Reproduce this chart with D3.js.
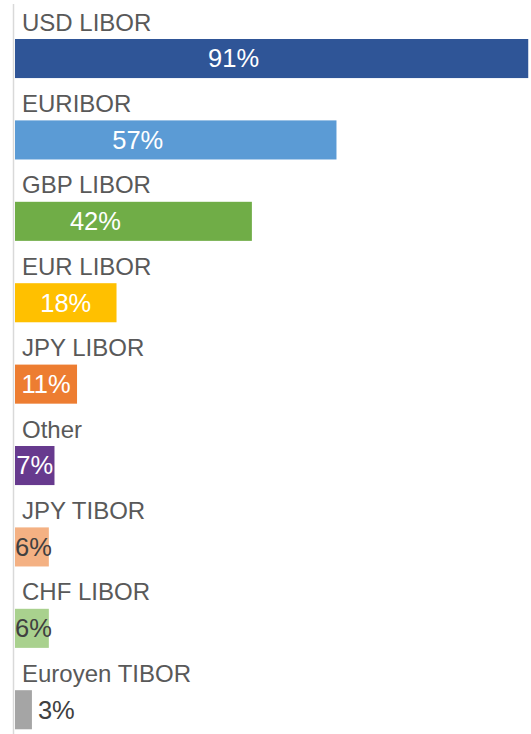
<!DOCTYPE html>
<html>
<head>
<meta charset="utf-8">
<script src="https://cdn.jsdelivr.net/npm/d3@7"></script>
<style>
html,body{margin:0;padding:0;background:#fff;overflow:hidden;}
svg{display:block;}
text{font-family:"Liberation Sans",Arial,sans-serif;}
</style>
</head>
<body>
<svg id="chart" width="531" height="734"></svg>
<script>
const categories = ["USD LIBOR","EURIBOR","GBP LIBOR","EUR LIBOR","JPY LIBOR","Other","JPY TIBOR","CHF LIBOR","Euroyen TIBOR"];
const values = [91,57,42,18,11,7,6,6,3];
const valueLabels = ["91%","57%","42%","18%","11%","7%","6%","6%","3%"];
const colors = ["#2F5597","#5B9BD5","#70AD47","#FFC000","#ED7D31","#673A8E","#F4B183","#A9D18E","#A5A5A5"];
const labelColors = ["#fff","#fff","#fff","#fff","#fff","#fff","#404040","#404040","#404040"];

const W = 531, H = 734;
const svg = d3.select("#chart");
const x = d3.scaleLinear().domain([0,100]).range([15, 15+564]);
const y = d3.scaleBand().domain(categories).range([39, 39 + 81.4*8.48]).paddingInner(0.52).paddingOuter(0);

// axis line
svg.append("line").attr("x1",13.5).attr("x2",13.5).attr("y1",4).attr("y2",H)
  .attr("stroke","#d9d9d9").attr("stroke-width",1.5);

const g = svg.append("g");
const rows = g.selectAll("g.row").data(categories).join("g").attr("class","row");

rows.append("rect")
  .attr("x", x(0))
  .attr("y", d => y(d))
  .attr("width", (d,i) => x(values[i]) - x(0))
  .attr("height", y.bandwidth())
  .attr("fill", (d,i) => colors[i]);

rows.append("text")
  .attr("x", 22)
  .attr("y", d => y(d) - 8.5)
  .attr("font-size", 24)
  .attr("fill", "#595959")
  .text(d => d);

rows.append("text")
  .attr("y", d => y(d) + y.bandwidth()/2 + 8.8)
  .attr("font-size", 25.5)
  .attr("fill", (d,i) => labelColors[i])
  .text((d,i) => valueLabels[i])
  .each(function(d,i){
    const t = d3.select(this);
    const tw = this.getComputedTextLength();
    const x0 = x(0), w = x(values[i]) - x0;
    if (w < 20) {
      t.attr("x", x(values[i]) + 6).attr("text-anchor","start");
    } else if (tw > w - 2) {
      t.attr("x", x0).attr("text-anchor","start");
    } else {
      const shift = w > 150 ? 38 : 0;
      t.attr("x", x0 + w/2 - shift).attr("text-anchor","middle");
    }
  });
</script>
</body>
</html>
